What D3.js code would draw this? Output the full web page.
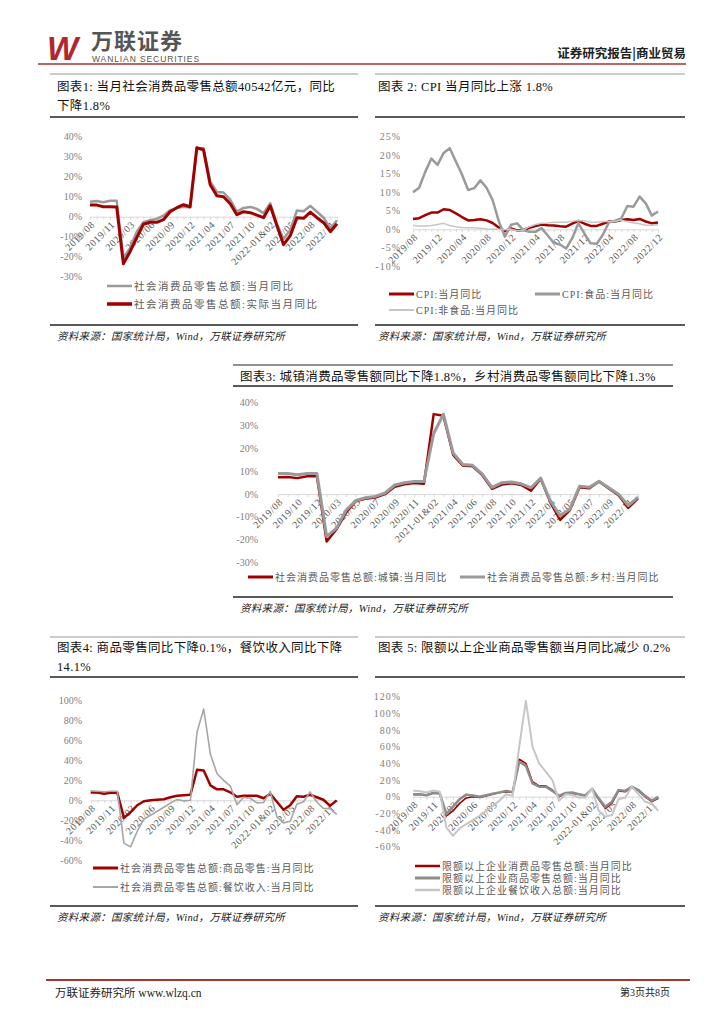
<!DOCTYPE html>
<html>
<head>
<meta charset="utf-8">
<script src="https://cdn.jsdelivr.net/npm/d3@7"></script>
<style>
  body { margin: 0; background: #fff; }
  svg { display: block; }
  text { font-family: "Liberation Serif", "Noto Sans CJK SC", serif; }
</style>
</head>
<body>
<div id="page"></div>
<script>
// ---- data ----
const retailMonths = ["2019/08","2019/09","2019/10","2019/11","2019/12","2020/02","2020/03","2020/04","2020/05","2020/06",
  "2020/07","2020/08","2020/09","2020/10","2020/11","2020/12","2021-01&02","2021/03","2021/04","2021/05",
  "2021/06","2021/07","2021/08","2021/09","2021/10","2021/11","2021/12","2022-01&02","2022/03","2022/04",
  "2022/05","2022/06","2022/07","2022/08","2022/09","2022/10","2022/11","2022/12"];
const cpiMonths = ["2019/08","2019/09","2019/10","2019/11","2019/12",
  "2020/01","2020/02","2020/03","2020/04","2020/05","2020/06","2020/07","2020/08","2020/09","2020/10","2020/11","2020/12",
  "2021/01","2021/02","2021/03","2021/04","2021/05","2021/06","2021/07","2021/08","2021/09","2021/10","2021/11","2021/12",
  "2022/01","2022/02","2022/03","2022/04","2022/05","2022/06","2022/07","2022/08","2022/09","2022/10","2022/11","2022/12"];

// chart 1
const retailNominal = [7.5,7.8,7.2,8.0,8.0,-20.5,-15.8,-7.5,-2.8,-1.8,-1.1,0.5,3.3,4.3,5.0,4.6,33.8,34.2,17.7,12.4,
  12.1,8.5,2.5,4.4,4.9,3.9,1.7,6.7,-3.5,-11.1,-6.7,3.1,2.7,5.4,2.5,-0.5,-5.9,-1.8];
const retailReal = [5.8,5.8,5.0,5.0,4.8,-23.5,-17.5,-10.5,-3.8,-2.8,-2.8,-1.5,2.5,4.5,6.0,5.0,34.5,33.5,16.0,10.5,
  10.0,6.5,1.0,2.5,2.0,0.8,-0.5,5.5,-4.5,-14.0,-9.5,-0.5,-0.8,2.3,-0.5,-3.0,-7.5,-3.5];
const ticks1 = [-30,-20,-10,0,10,20,30,40];

// chart 2
const cpiAll = [2.8,3.0,3.8,4.5,4.5,5.4,5.2,4.3,3.3,2.4,2.5,2.7,2.4,1.7,0.5,-0.5,0.2,
  -0.3,-0.2,0.4,0.9,1.3,1.1,1.0,0.8,0.7,1.5,2.3,1.5,0.9,0.9,1.5,2.1,2.1,2.5,2.7,2.5,2.8,2.1,1.6,1.8];
const cpiFood = [10.0,11.2,15.5,19.1,17.4,20.6,21.9,18.3,14.8,10.6,11.1,13.2,11.2,7.9,2.2,-2.0,1.2,
  1.6,-0.2,-0.7,-0.7,0.3,-1.7,-3.7,-4.1,-5.2,-2.4,1.6,-1.2,-3.8,-3.9,-1.5,1.9,2.3,2.9,6.3,6.1,8.8,7.0,3.7,4.8];
const cpiNonFood = [1.0,0.9,0.9,1.0,1.3,1.6,1.0,0.7,0.5,0.4,0.4,0.3,0.1,0.0,0.0,-0.1,0.0,
  -0.4,-0.2,0.7,1.3,1.6,1.7,1.9,1.9,1.9,2.2,2.4,2.3,1.9,1.9,2.1,2.1,2.1,2.5,2.0,1.7,1.5,1.1,1.1,1.2];
const ticks2 = [-10,-5,0,5,10,15,20,25];

// chart 3
const urbanRetail = [7.4,7.5,7.0,7.8,7.8,-20.7,-15.5,-8.0,-3.0,-2.0,-1.5,0.0,3.2,4.3,4.9,4.5,35.0,34.3,17.2,12.5,
  12.2,8.3,2.3,4.2,4.8,4.0,1.5,6.7,-3.7,-11.3,-7.0,3.0,2.6,5.5,2.5,-0.5,-6.0,-1.8];
const ruralRetail = [9.0,9.0,8.5,9.0,9.0,-18.5,-15.0,-7.0,-2.8,-1.6,-1.0,0.5,4.0,5.0,5.5,5.5,26.5,35.0,18.0,13.0,
  12.6,8.8,3.0,5.0,5.3,4.5,2.8,7.0,-3.0,-9.5,-6.5,3.5,3.0,5.6,2.8,0.0,-5.0,-1.3];
const ticks3 = [-30,-20,-10,0,10,20,30,40];

// chart 4
const goodsRetail = [7.7,7.7,6.5,7.5,7.5,-17.7,-12.0,-5.0,-1.0,0.0,0.5,1.0,3.0,4.5,5.0,5.5,30.7,30.0,15.0,11.0,
  11.0,8.0,3.5,4.5,4.5,4.5,2.0,6.5,-1.5,-9.5,-5.0,4.0,3.5,5.5,3.0,0.5,-5.5,-0.1];
const cateringRetail = [9.4,9.0,8.5,9.1,9.1,-43.1,-46.8,-31.1,-18.9,-15.2,-11.0,-7.0,-2.9,0.8,-0.6,0.0,68.9,91.6,46.4,26.6,
  20.0,14.3,-4.5,3.1,2.0,-2.7,-2.2,8.9,-16.4,-22.7,-21.1,-4.0,-1.5,8.4,-1.7,-8.1,-8.4,-14.1];
const ticks4 = [-60,-40,-20,0,20,40,60,80,100];

// chart 5
const aboveTotal = [2.8,3.0,2.0,4.5,4.0,-23.0,-17.0,-8.0,-1.5,0.0,-1.0,1.0,3.0,5.0,6.0,5.0,45.0,40.0,18.0,13.0,
  13.0,8.0,0.0,4.0,4.0,3.0,1.0,9.5,-3.0,-14.0,-8.0,7.0,6.0,11.0,7.0,0.0,-6.0,-2.0];
const aboveGoods = [2.5,2.8,1.8,4.5,3.8,-21.0,-12.0,-3.0,2.5,1.5,0.0,1.8,3.5,5.0,7.0,5.5,42.0,37.0,16.0,12.0,
  12.0,7.0,1.0,4.5,5.0,3.0,1.5,9.5,-2.0,-12.0,-6.0,8.0,7.0,12.0,8.0,1.0,-5.0,-0.2];
const aboveCatering = [7.0,6.5,5.0,7.5,6.0,-37.0,-47.0,-38.0,-33.0,-28.0,-23.0,-17.0,-11.0,-5.0,3.0,1.0,60.0,115.0,60.0,40.0,
  30.0,20.0,-5.0,3.0,2.0,-1.0,-1.0,10.0,-17.0,-24.0,-22.0,-3.0,-1.0,12.0,3.0,-6.0,-8.0,-17.0];
const ticks5 = [-60,-40,-20,0,20,40,60,80,100,120];

const RED = "#a00000";
const GRAY = "#9a9a9a";
const LIGHT = "#c6c6c6";
const SOURCE = "资料来源：国家统计局，Wind，万联证券研究所";

const svg = d3.select("#page").append("svg")
  .attr("width", 724).attr("height", 1024);

// ---- page header / footer ----
function drawPage() {
  svg.append("text").attr("x", 47).attr("y", 60)
    .style("font-family", "Liberation Sans").style("font-weight", "bold").style("font-style", "italic")
    .style("font-size", "33px").attr("fill", "#b3262c").text("W");
  svg.append("text").attr("x", 91).attr("y", 49)
    .style("font-family", "Noto Sans CJK SC").style("font-weight", "bold")
    .style("font-size", "22px").style("letter-spacing", "1px").attr("fill", "#555").text("万联证券");
  svg.append("text").attr("x", 92).attr("y", 61.5)
    .style("font-family", "Liberation Sans").style("font-size", "8.5px").style("letter-spacing", "0.9px")
    .attr("fill", "#555").text("WANLIAN SECURITIES");
  svg.append("text").attr("x", 686).attr("y", 58).attr("text-anchor", "end")
    .style("font-family", "Noto Sans CJK SC").style("font-weight", "bold")
    .style("font-size", "12.5px").attr("fill", "#222").text("证券研究报告|商业贸易");
  svg.append("line").attr("x1", 38).attr("x2", 686).attr("y1", 64).attr("y2", 64)
    .attr("stroke", "#a8332f").attr("stroke-width", 1.5);

  // footer
  svg.append("line").attr("x1", 46).attr("x2", 690).attr("y1", 980).attr("y2", 980)
    .attr("stroke", "#a8332f").attr("stroke-width", 2);
  svg.append("text").attr("x", 55).attr("y", 997).style("font-size", "11.5px").attr("fill", "#222")
    .text("万联证券研究所 www.wlzq.cn");
  svg.append("text").attr("x", 670).attr("y", 996).attr("text-anchor", "end")
    .style("font-size", "10px").attr("fill", "#222").text("第3页共8页");
}

// ---- frame: title lines, rules, source ----
function drawFrame(f) {
  if (f.topRule != null) {
    svg.append("line").attr("x1", f.left).attr("x2", f.right).attr("y1", f.topRule).attr("y2", f.topRule)
      .attr("stroke", f.topColor || "#999").attr("stroke-width", 1);
  }
  f.title.forEach((t, i) => {
    svg.append("text").attr("x", f.titleX).attr("y", f.titleY + i * 19)
      .attr("dy", "0.35em").style("font-size", "12.5px").style("letter-spacing", "0.35px")
      .attr("fill", "#111").text(t);
  });
  svg.append("line").attr("x1", f.left).attr("x2", f.right).attr("y1", f.ruleY).attr("y2", f.ruleY)
    .attr("stroke", "#222").attr("stroke-width", 1.6);
  svg.append("line").attr("x1", f.left).attr("x2", f.right).attr("y1", f.bottomY).attr("y2", f.bottomY)
    .attr("stroke", "#222").attr("stroke-width", 1.6);
  svg.append("text").attr("x", f.titleX).attr("y", f.bottomY + 11).attr("dy", "0.35em")
    .style("font-size", "10.5px").style("font-style", "italic").style("letter-spacing", "0.3px")
    .attr("fill", "#222").text(SOURCE);
}

// ---- one line chart ----
function drawChart(c) {
  const g = svg.append("g");
  const x = d3.scalePoint().domain(c.cats).range([c.x0, c.x1]);
  const y = d3.scaleLinear().domain([c.ticks[0], c.ticks[c.ticks.length - 1]]).range([c.yBottom, c.yTop]);
  const y0 = y(0);

  // y labels
  g.selectAll(".ylab").data(c.ticks).enter().append("text")
    .attr("x", c.labelX).attr("y", d => y(d)).attr("dy", "0.35em")
    .attr("text-anchor", "end").style("font-size", "10px")
    .style("letter-spacing", c.ySpacing || "0px")
    .attr("fill", "#808080").text(d => d + "%");

  // zero axis with small ticks
  const axis = g.append("g").attr("transform", `translate(0,${y0})`)
    .call(d3.axisBottom(x).tickSize(3).tickSizeOuter(0).tickFormat(() => ""));
  axis.selectAll("path,line").attr("stroke", "#d9d9d9");

  // rotated category labels
  const shown = c.cats.filter((d, i) => i % c.every === 0);
  g.selectAll(".xlab").data(shown).enter().append("text")
    .attr("transform", d => `translate(${x(d) + 3},${y0 + 6}) rotate(-45)`)
    .attr("text-anchor", "end").attr("dy", "0.35em")
    .style("font-size", "10px").style("letter-spacing", "0.6px")
    .attr("fill", "#595959").text(d => d);

  // series
  c.series.forEach(s => {
    const line = d3.line().x((d, i) => x(c.cats[i])).y(d => y(d));
    g.append("path").datum(s.values).attr("d", line)
      .attr("fill", "none").attr("stroke", s.color).attr("stroke-width", s.width)
      .attr("stroke-linejoin", "round");
  });

  // legend
  c.legend.forEach(l => {
    g.append("line").attr("x1", l.x).attr("x2", l.x + 25).attr("y1", l.y).attr("y2", l.y)
      .attr("stroke", l.color).attr("stroke-width", l.width);
    g.append("text").attr("x", l.x + 27).attr("y", l.y).attr("dy", "0.35em")
      .style("font-size", c.legendSize || "10px").style("letter-spacing", c.legendSpacing || "1px")
      .attr("fill", "#595959").text(l.label);
  });
}

drawPage();

// chart 1
drawFrame({ left: 50, right: 358, topRule: 74, titleX: 57, titleY: 87,
  title: ["图表1: 当月社会消费品零售总额40542亿元，同比", "下降1.8%"], ruleY: 117, bottomY: 325 });
drawChart({ cats: retailMonths, x0: 90, x1: 337, ticks: ticks1, yBottom: 276.7, yTop: 136.7,
  labelX: 82, every: 3, legendSize: "10.5px", legendSpacing: "1.5px",
  series: [
    { values: retailNominal, color: GRAY, width: 2.5 },
    { values: retailReal, color: RED, width: 3 }
  ],
  legend: [
    { x: 107, y: 286, color: GRAY, width: 2.5, label: "社会消费品零售总额:当月同比" },
    { x: 107, y: 304, color: RED, width: 3.5, label: "社会消费品零售总额:实际当月同比" }
  ] });

// chart 2
drawFrame({ left: 375, right: 685, topRule: 74, titleX: 378, titleY: 87,
  title: ["图表 2: CPI 当月同比上涨 1.8%"], ruleY: 117, bottomY: 325 });
drawChart({ cats: cpiMonths, x0: 413, x1: 658, ticks: ticks2, yBottom: 266.3, yTop: 136.7,
  labelX: 401, every: 4, ySpacing: "1px",
  series: [
    { values: cpiAll, color: RED, width: 2.5 },
    { values: cpiFood, color: GRAY, width: 2.5 },
    { values: cpiNonFood, color: LIGHT, width: 1.5 }
  ],
  legend: [
    { x: 389, y: 294, color: RED, width: 3, label: "CPI:当月同比" },
    { x: 535, y: 294, color: GRAY, width: 3, label: "CPI:食品:当月同比" },
    { x: 389, y: 310, color: LIGHT, width: 2, label: "CPI:非食品:当月同比" }
  ] });

// chart 3
drawFrame({ left: 233, right: 673, topRule: 365, topColor: "#222", titleX: 240, titleY: 376.5,
  title: ["图表3: 城镇消费品零售额同比下降1.8%，乡村消费品零售额同比下降1.3%"], ruleY: 386, bottomY: 597 });
drawChart({ cats: retailMonths, x0: 278, x1: 638, ticks: ticks3, yBottom: 562.7, yTop: 402.7,
  labelX: 258, every: 2,
  series: [
    { values: urbanRetail, color: RED, width: 2.5 },
    { values: ruralRetail, color: GRAY, width: 3 }
  ],
  legend: [
    { x: 248, y: 577, color: RED, width: 3, label: "社会消费品零售总额:城镇:当月同比" },
    { x: 460, y: 577, color: GRAY, width: 3, label: "社会消费品零售总额:乡村:当月同比" }
  ] });

// chart 4
drawFrame({ left: 50, right: 358, topRule: 637, titleX: 57, titleY: 648,
  title: ["图表4: 商品零售同比下降0.1%，餐饮收入同比下降", "14.1%"], ruleY: 677, bottomY: 906 });
drawChart({ cats: retailMonths, x0: 90.7, x1: 336.7, ticks: ticks4, yBottom: 860, yTop: 700.7,
  labelX: 82, every: 3,
  series: [
    { values: goodsRetail, color: RED, width: 2.5 },
    { values: cateringRetail, color: "#a6a6a6", width: 1.6 }
  ],
  legend: [
    { x: 93, y: 868, color: RED, width: 3, label: "社会消费品零售总额:商品零售:当月同比" },
    { x: 93, y: 887, color: "#a6a6a6", width: 2, label: "社会消费品零售总额:餐饮收入:当月同比" }
  ] });

// chart 5
drawFrame({ left: 375, right: 685, topRule: 637, titleX: 378, titleY: 648,
  title: ["图表 5: 限额以上企业商品零售额当月同比减少 0.2%"], ruleY: 677, bottomY: 906 });
drawChart({ cats: retailMonths, x0: 413.3, x1: 658.3, ticks: ticks5, yBottom: 846.7, yTop: 696.7,
  labelX: 401, every: 3, ySpacing: "1px",
  series: [
    { values: aboveTotal, color: RED, width: 1.6 },
    { values: aboveGoods, color: "#8c8c8c", width: 2.5 },
    { values: aboveCatering, color: LIGHT, width: 2 }
  ],
  legend: [
    { x: 415, y: 866, color: RED, width: 2.5, label: "限额以上企业消费品零售总额:当月同比" },
    { x: 415, y: 878, color: "#8c8c8c", width: 3, label: "限额以上企业商品零售总额:当月同比" },
    { x: 415, y: 890, color: LIGHT, width: 2.5, label: "限额以上企业餐饮收入总额:当月同比" }
  ] });
</script>
</body>
</html>
